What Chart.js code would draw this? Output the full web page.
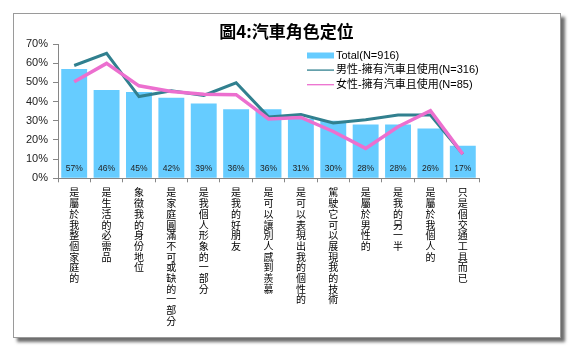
<!DOCTYPE html>
<html>
<head>
<meta charset="utf-8">
<script src="https://cdn.jsdelivr.net/npm/chart.js@4.4.0/dist/chart.umd.min.js"></script>
<style>
  html, body { margin: 0; padding: 0; background: #fff; }
  #frame {
    position: absolute; left: 13px; top: 13px;
    width: 548px; height: 325px; box-sizing: border-box;
    border: 1px solid #9a9a9a;
    box-shadow: 4px 4px 3px #6e6e6e;
    background: #fff;
  }
  #chart { position: absolute; left: 0; top: 0; }
</style>
</head>
<body>
<div id="frame"></div>
<canvas id="chart" width="573" height="352"></canvas>
<script>
const chartTitle = '圖4:汽車角色定位';
const categories = ['是屬於我整個家庭的', '是生活的必需品', '象徵我的身份地位', '是家庭圓滿不可或缺的一部分',
  '是我個人形象的一部分', '是我的好朋友', '是可以讓別人感到羨慕', '是可以表現出我的個性的',
  '駕駛它可以展現我的技術', '是屬於男性的', '是我的另一半', '是屬於我個人的', '只是個交通工具而已'];
const totalValues = [57, 46, 45, 42, 39, 36, 36, 31, 30, 28, 28, 26, 17];
const maleValues = [58.8, 65.1, 42.6, 45.6, 43.2, 49.8, 32, 33.2, 28.8, 30.5, 33, 33, 12.6];
const femaleValues = [50.3, 59.9, 48.2, 45.2, 43.8, 43.6, 30.9, 31.7, 24.4, 15.6, 26.9, 35.2, 12.6];
const seriesNames = ['Total(N=916)', '男性-擁有汽車且使用(N=316)', '女性-擁有汽車且使用(N=85)'];
const yTicks = ['0%', '10%', '20%', '30%', '40%', '50%', '60%', '70%'];

const axisColor = '#868686';

// title centred on the whole frame, not on the plot
const frameTitle = {
  id: 'frameTitle',
  afterDraw(chart) {
    const c = chart.ctx;
    c.save();
    c.font = "bold 17px 'Noto Sans CJK TC', sans-serif";
    c.fillStyle = '#000';
    c.textAlign = 'center';
    c.textBaseline = 'middle';
    c.fillText(chartTitle, 286.5, 31.5);
    c.restore();
  }
};

// legend drawn inside the plot, top right, like the original
const insideLegend = {
  id: 'insideLegend',
  afterDraw(chart) {
    const c = chart.ctx;
    c.save();
    c.font = "11px 'Liberation Sans', 'Noto Sans CJK TC', sans-serif";
    c.textBaseline = 'middle';
    chart.data.datasets.forEach((ds, i) => {
      const y = 55.5 + i * 14.6;
      if (ds.type === 'bar') {
        c.fillStyle = ds.backgroundColor;
        c.fillRect(307, y - 3, 27, 6);
      } else {
        c.strokeStyle = ds.borderColor;
        c.lineWidth = 1.3;
        c.beginPath();
        c.moveTo(307, y);
        c.lineTo(334, y);
        c.stroke();
      }
      c.fillStyle = '#000';
      c.fillText(ds.label, 336, y);
    });
    c.restore();
  }
};

// percent labels near the bottom of each bar
const barLabels = {
  id: 'barLabels',
  afterDatasetsDraw(chart) {
    const c = chart.ctx;
    const meta = chart.getDatasetMeta(0);
    const y0 = chart.scales.y.getPixelForValue(0);
    c.save();
    c.font = "8.5px 'Liberation Sans', sans-serif";
    c.fillStyle = '#222';
    c.textAlign = 'center';
    c.textBaseline = 'middle';
    meta.data.forEach((bar, i) => {
      c.fillText(Math.round(totalValues[i]) + '%', bar.x, y0 - 10);
    });
    c.restore();
  }
};

new Chart(document.getElementById('chart'), {
  data: {
    labels: categories.map(s => s.split('')),
    datasets: [{
      type: 'bar',
      label: seriesNames[0],
      data: totalValues,
      backgroundColor: '#66CCFF',
      categoryPercentage: 0.8,
      barPercentage: 1,
      order: 3
    }, {
      type: 'line',
      label: seriesNames[1],
      data: maleValues,
      borderColor: '#31808F',
      borderWidth: 3,
      pointRadius: 0,
      tension: 0,
      order: 2
    }, {
      type: 'line',
      label: seriesNames[2],
      data: femaleValues,
      borderColor: '#EC6FCF',
      borderWidth: 3.5,
      pointRadius: 0,
      tension: 0,
      order: 1
    }]
  },
  options: {
    responsive: false,
    animation: false,
    layout: { padding: { top: 44, left: 0, right: 94, bottom: 0 } },
    plugins: {
      legend: { display: false },
      tooltip: { enabled: false },
      title: { display: false }
    },
    scales: {
      x: {
        grid: { display: true, drawOnChartArea: false, offset: true, color: axisColor, tickLength: 4 },
        border: { color: axisColor },
        ticks: {
          autoSkip: false, maxRotation: 0, minRotation: 0, padding: 5,
          color: '#000',
          font: { size: 10, family: "'Noto Sans CJK TC', sans-serif", lineHeight: 1.07 }
        },
        afterFit(scale) { scale.height = 173.7; }
      },
      y: {
        min: 0, max: 70,
        grid: { display: true, drawOnChartArea: false, color: axisColor, tickLength: 5 },
        border: { color: axisColor },
        ticks: {
          stepSize: 10, padding: 5, color: '#222',
          font: { size: 11, family: "'Liberation Sans', sans-serif" },
          callback: (v, i) => yTicks[i]
        },
        afterFit(scale) { scale.width = 58; }
      }
    }
  },
  plugins: [frameTitle, insideLegend, barLabels]
});
</script>
</body>
</html>
